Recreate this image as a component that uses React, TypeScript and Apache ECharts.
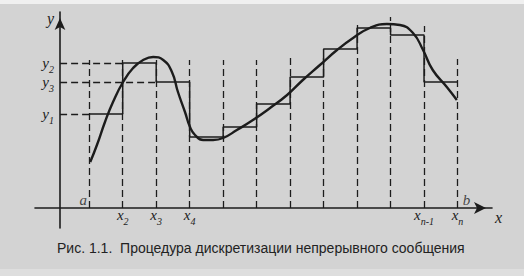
import React, { useEffect, useRef } from 'react';
import * as echarts from 'echarts';

// sample instants x1 (=a) ... xn (=b), in sampling-step units
const samplesX = [0.87, 1.87, 2.87, 3.87, 4.87, 5.87, 6.87, 7.87, 8.87, 9.87, 10.87, 11.87];
// held (quantised) level on each interval [x_k, x_k+1]
const stepLevels = [9.4, 14.5, 12.6, 7.1, 8.1, 10.4, 13.1, 15.9, 18.0, 17.3, 12.6];
// top of each dashed sampling line
const dashTops = [14.8, 14.8, 14.8, 14.8, 14.8, 14.8, 15.0, 15.0, 18.4, 19.1, 18.2, 14.9];
// continuous message curve
const curveX = [0.9, 1.1, 1.34, 1.58, 1.88, 2.18, 2.48, 2.78, 3.08, 3.34, 3.52, 3.73, 3.88, 4.03, 4.27, 4.57, 4.87, 5.28, 5.76, 6.27, 6.78, 7.25, 7.76, 8.27, 8.75, 9.25, 9.76, 10.15, 10.54, 10.84, 11.13, 11.55, 11.85];
const curveY = [4.6, 6.3, 8.6, 10.6, 12.6, 14.0, 14.8, 15.1, 14.8, 13.6, 11.6, 9.6, 8.1, 7.3, 6.8, 6.8, 7.0, 7.8, 8.8, 10.0, 11.3, 12.8, 14.3, 15.8, 17.0, 18.0, 18.4, 18.3, 17.5, 15.8, 13.8, 12.1, 10.8];
// labelled levels y1, y2, y3 (index into stepLevels)
const yLabelIdx = [0, 1, 2];
const yLabelSubs = ['1', '2', '3'];
// labelled sample instants
const xLabelIdx = [1, 2, 3, 10, 11];
const xLabelSubs = ['2', '3', '4', 'n-1', 'n'];
// interval ends
const endLabels = ['a', 'b'];
const caption = 'Рис. 1.1.  Процедура дискретизации непрерывного сообщения';

export default function App() {
  const ref = useRef<HTMLDivElement>(null);
  useEffect(() => {
    const chart = echarts.init(ref.current!, null, { renderer: 'svg' });
    const ink = '#1c1c1c';
    const serif = 'Liberation Serif';
    const rich = {
      v: { fontFamily: serif, fontStyle: 'italic', fontSize: 15, lineHeight: 14, color: ink, verticalAlign: 'bottom' },
      s: { fontFamily: serif, fontStyle: 'italic', fontSize: 10, lineHeight: 10, color: ink, verticalAlign: 'bottom', padding: [0, 0, -4, 0] },
    };
    const nearest = (v: number, vals: number[]) => {
      let best = 0;
      vals.forEach((x, i) => { if (Math.abs(x - v) < Math.abs(vals[best] - v)) best = i; });
      return best;
    };
    const yVals = yLabelIdx.map((i) => stepLevels[i]);
    const xVals = xLabelIdx.map((i) => samplesX[i]);

    const stepData: number[][] = stepLevels.map((y, i) => [samplesX[i], y]);
    stepData.push([samplesX[samplesX.length - 1], stepLevels[stepLevels.length - 1]]);

    const vDash = samplesX.map((x, i) => ({ coords: [[x, 0], [x, dashTops[i]]] }));
    const hDash = yLabelIdx.map((i) => ({ coords: [[0, stepLevels[i]], [samplesX[i], stepLevels[i]]] }));

    const last = samplesX.length - 1;

    chart.setOption({
      animation: false,
      backgroundColor: '#d3d3d3',
      graphic: [
        { type: 'rect', left: 0, top: 0, shape: { width: 524, height: 4 }, style: { fill: '#f0f0f0' }, silent: true },
        { type: 'rect', left: 0, bottom: 0, shape: { width: 524, height: 7 }, style: { fill: '#dedede' }, silent: true },
      ],
      title: {
        text: caption,
        left: 52,
        top: 236,
        textStyle: { fontFamily: 'Liberation Sans', fontSize: 14, fontWeight: 'normal', color: '#222' },
      },
      grid: { left: 35, right: 32, top: 12, bottom: 48 },
      xAxis: {
        type: 'value',
        min: -0.75,
        max: 12.9,
        position: 'bottom',
        offset: -20,
        name: 'x',
        nameLocation: 'end',
        nameGap: 3,
        nameTextStyle: { fontFamily: serif, fontStyle: 'italic', fontSize: 16, color: ink, verticalAlign: 'top', padding: [1, 0, 0, 0] },
        axisLine: { onZero: false, symbol: ['none', 'arrow'], symbolSize: [9, 12], symbolOffset: [0, -6], lineStyle: { color: ink, width: 1.6 } },
        axisTick: { show: false },
        splitLine: { show: false },
        axisLabel: {
          customValues: xVals,
          margin: 0,
          formatter: (v: number) => `{v|x}{s|${xLabelSubs[nearest(v, xVals)]}}`,
          rich,
        },
      },
      yAxis: {
        type: 'value',
        min: -2,
        max: 19.6,
        position: 'left',
        offset: -25,
        name: 'y',
        nameLocation: 'end',
        nameGap: -14,
        nameTextStyle: { fontFamily: serif, fontStyle: 'italic', fontSize: 16, color: ink, align: 'right', padding: [0, 6, 0, 0] },
        axisLine: { onZero: false, symbol: ['none', 'arrow'], symbolSize: [8, 12], symbolOffset: [0, -6], lineStyle: { color: ink, width: 1.6 } },
        axisTick: { show: false },
        splitLine: { show: false },
        axisLabel: {
          customValues: yVals,
          margin: 6,
          formatter: (v: number) => `{v|y}{s|${yLabelSubs[nearest(v, yVals)]}}`,
          rich,
        },
      },
      series: [
        {
          type: 'lines',
          coordinateSystem: 'cartesian2d',
          data: vDash,
          lineStyle: { color: ink, width: 1.3, type: [7, 4], opacity: 1 },
          silent: true,
        },
        {
          type: 'lines',
          coordinateSystem: 'cartesian2d',
          data: hDash,
          lineStyle: { color: ink, width: 1.3, type: [7, 4], opacity: 1 },
          silent: true,
        },
        {
          type: 'line',
          data: stepData,
          step: 'end',
          symbol: 'none',
          lineStyle: { color: ink, width: 1.5 },
        },
        {
          type: 'line',
          data: curveX.map((x, i) => [x, curveY[i]]),
          smooth: 0.5,
          symbol: 'none',
          lineStyle: { color: ink, width: 2.4 },
        },
        {
          type: 'scatter',
          symbolSize: 0,
          data: [
            { value: [samplesX[0], 0], label: { formatter: endLabels[0], offset: [-6, 0] } },
            { value: [samplesX[last], 0], label: { formatter: endLabels[1], offset: [9, 0] } },
          ],
          label: {
            show: true,
            position: 'top',
            distance: 1,
            fontFamily: serif,
            fontStyle: 'italic',
            fontSize: 15,
            color: ink,
          },
          silent: true,
        },
      ],
    });
    return () => chart.dispose();
  }, []);
  return <div ref={ref} style={{ position: 'absolute', left: 0, top: 0, width: 524, height: 276 }} />;
}
